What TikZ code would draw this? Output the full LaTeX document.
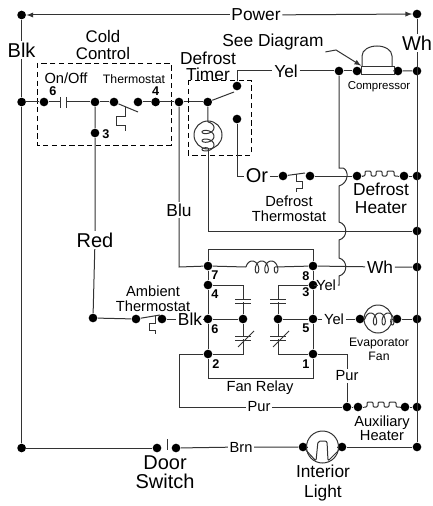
\documentclass[tikz,border=0pt]{standalone}
\usepackage{fontspec}
\setmainfont{Liberation Sans}
\definecolor{wirecol}{gray}{0.2}

\tikzset{
	dot/.style={circle,fill=black,inner sep=0pt,minimum size=6.5pt},
	txtXL/.style={inner sep=1pt,align=center,font=\fontsize{15}{14.5}\selectfont},
	txtL/.style={inner sep=1pt,align=center,font=\fontsize{13}{13.3}\selectfont},
	txtM/.style={inner sep=1pt,align=center,font=\fontsize{11}{11}\selectfont},
	txtS/.style={inner sep=1pt,align=center,font=\fontsize{9.2}{11}\selectfont},
	num/.style={inner sep=0pt,font=\fontsize{9.5}{10}\selectfont\bfseries},
	box/.style={draw=black,dashed,dash pattern=on 4pt off 2.6pt,line width=0.7pt},
	heater/.pic={\draw[rounded corners=0.8pt] (0,0) -- (3,0) -- (3,-5) -- (9,-5) -- (9,0) -- (14,0) -- (14,-5) -- (20,-5) -- (20,0) -- (25,0) -- (25,-5) -- (32,-5) -- (32,0) -- (36,0);},
	bimetal/.pic={\draw (0,0) -- (0,7) -- (6,7) -- (6,14) -- (0,14) -- (0,18);},
	plates/.pic={\draw (-8,0) -- (8,0) (-8,4) -- (8,4);},
	windings/.pic={\draw[domain=-90:990,samples=120,smooth,variable=\t] plot ({(\t+90)/1080*26+3.5*sin(\t)+3.5},{-6*cos(\t)});},
}

\begin{document}
\begin{tikzpicture}[x=0.75pt,y=-0.75pt,line width=0.75pt,draw=wirecol]
	\useasboundingbox (0,0) rectangle (432,506);

	% terminals
	\foreach \name/\x/\y in {tl/21.6/15,tr/417/14,rowL/21.6/102,bl/21.6/448,br/417/447,
		a6/44/102,rj/95/102,a3/95/133,t1/114/102,t2/138/102,a4/155.6/102,tim/179/102,dt/207.7/102,
		tu/237/86,tl2/237/119,cmpB/339/71,cmpL/357/71,cmpR/398/71,r71/417/71,
		dtL/283/176,dtR/310/176,dhL/357/176,dhR/404/176,r176/417/176,r231/417/231,
		d7/208/266,d8/313/266,r267/417/267,d4/208/285,d3/313/285,d6/208/319,d5/313/319,
		cL/243/319,cR/278/319,d2/208/354,d1/313/354,
		atL/93/318,at1/136/319,at2/162/319,
		fanL/360/319,fanR/397/319,r319/417/319,
		pur/347/407,axL/358/407,axR/405/407,r407/417/407,
		dsL/157/448,dsR/176/448,ltL/303/447,ltR/342/447}
		\node[dot] (\name) at (\x,\y) {};

	% labels on wires
	\node[txtL] (pwr) at (256,15) {Power};
	\node[txtXL] (blkT) at (21.6,50) {Blk};
	\node[txtXL] (whT) at (417,43) {Wh};
	\node[txtL] (yelT) at (286,71) {Yel};
	\node[txtXL] (or) at (257,176) {Or};
	\node[txtL] (blu) at (179,210) {Blu};
	\node[txtXL] (red) at (95,240) {Red};
	\node[txtL] (blkL) at (190,319) {Blk};
	\node[txtL] (whL) at (380,267) {Wh};
	\node[txtM] (yel3) at (326,285) {Yel};
	\node[txtM] (yel5) at (334,319) {Yel};
	\node[txtM] (purV) at (347,376) {Pur};
	\node[txtM] (purH) at (259,407) {Pur};
	\node[txtM] (brn) at (241,447) {Brn};

	% other text
	\node[txtL,font=\fontsize{12.6}{12.4}\selectfont] at (103,45) {Cold\\Control};
	\node[txtM] at (66,78) {On/Off};
	\node[txtS] at (134,79) {Thermostat};
	\node[txtL] at (208,66) {Defrost\\[-1.3pt]Timer};
	\node[txtL] (see) at (273,42) {See Diagram};
	\node[txtS,font=\fontsize{8.6}{10}\selectfont] at (379,87) {Compressor};
	\node[txtM] at (289,209) {Defrost\\Thermostat};
	\node[txtL] at (381,198) {Defrost\\Heater};
	\node[txtM] at (153,299) {Ambient\\Thermostat};
	\node[txtS] at (379,349.5) {Evaporator\\Fan};
	\node[txtM] at (260,388) {Fan Relay};
	\node[txtM,font=\fontsize{11}{9.3}\selectfont] at (382,428) {Auxiliary\\Heater};
	\node[txtXL] at (165,472) {Door\\Switch};
	\node[txtL,font=\fontsize{13}{15}\selectfont] at (323,483) {Interior\\Light};

	\node[num] at (53,91) {6};
	\node[num] at (155.6,91) {4};
	\node[num] at (106,134) {3};
	\node[num] at (215,275) {7};
	\node[num] at (306,276) {8};
	\node[num] at (215,294) {4};
	\node[num] at (306,292) {3};
	\node[num] at (215,329) {6};
	\node[num] at (306,328) {5};
	\node[num] at (216,364) {2};
	\node[num] at (306,364) {1};

	% rails
	\draw[-latex] (pwr) -- (tl);
	\draw[-latex] (pwr) -- (tr);
	\draw (tl) -- (blkT) -- (rowL) -- (bl);
	\draw (tr) -- (whT) -- (br);
	\draw (bl) -- (dsL);
	\draw (dsR) -- (brn) -- (ltL);
	\draw (ltR) -- (br);

	% cold control
	\draw[box] (37,63) rectangle (171,145);
	\coordinate (capL) at (60,102);
	\coordinate (capR) at (66,102);
	\draw (rowL) -- (a6) -- (capL);
	\draw (capR) -- (rj) -- (t1);
	\draw (capL) +(0,-5) -- +(0,6);
	\draw (capR) +(0,-5) -- +(0,6);
	\draw (t1) -- (138,112);
	\pic[xscale=-1.35,yscale=1.35] at (125,107) {bimetal};
	\draw (t2) -- (a4) -- (tim) -- (dt);
	\draw (rj) -- (a3) -- (red) -- (atL);

	% ambient thermostat
	\draw (atL) -- (at1) -- (160,315);
	\draw (at2) -- (blkL) -- (d6);
	\pic[xscale=-1] at (155,316) {bimetal};

	% defrost timer
	\draw[box] (188,80) rectangle (251,155);
	\node[circle,draw,minimum size=21pt,inner sep=0pt] (tc) at (208,135) {};
	\coordinate (coilT) at (208,122);
	\coordinate (coilB) at (208,148);
	\draw (dt) -- (coilT);
	\pic[rotate=-90] at (coilT) {windings};
	\draw (coilB) -- (208,231) -- (r231);
	\draw (dt) -- (234,92);
	\draw (tu) |- (yelT);
	\draw (yelT) -- (cmpB) -- (cmpL);
	\draw (tl2) |- (or);
	\draw (or) -- (dtL);

	% compressor
	\node[draw,fill=white,minimum width=24.5pt,minimum height=6.5pt,inner sep=0pt] (cmp) at (378,70.5) {};
	\draw (cmpL) -- (cmp);
	\draw (cmp) -- (cmpR) -- (r71);
	\draw (362,66) -- (362,56) .. controls (362,50) and (369,46) .. (377,46) .. controls (385,46) and (392,50) .. (392,56) -- (392,66);
	\draw[-latex] (see.south east) -- (336,50) -- (cmp.north west);

	% defrost thermostat and heater
	\draw (dtL) -- (305,173);
	\pic at (296,174) {bimetal};
	\draw (dtR) -- (dhL);
	\pic at (362,176) {heater};
	\draw (dhR) -- (r176);
	\draw (dhL) -- (362,176);
	\draw (398,176) -- (dhR);

	% yellow wire with hops
	\draw (cmpB) -- (339,168) -- (343,168) .. controls (349,170) and (349,183) .. (339,186) -- (339,222)
		.. controls (348,224) and (348,238) .. (339,240) -- (339,258)
		.. controls (348,260) and (348,274) .. (339,276) |- (yel3);
	\draw (yel3) -- (d3);

	% fan relay
	\draw (d7) -- (208,249) -- (313,249) -- (d8);
	\draw (tim) -- (blu) -- (179,267) -- (d7);
	\coordinate (rcL) at (246,267);
	\coordinate (rcR) at (275,267);
	\draw (d7) -- (rcL);
	\pic[xscale=1.1] at (rcL) {windings};
	\draw (rcR) -- (d8);
	\draw (d8) -- (whL) -- (r267);
	\draw (d7) -- (d4) -- (d6) -- (d2) -- (208,378) -- (313,378) -- (d1) -- (d5) -- (d3) -- (d8);
	\draw (d4) -| (cL);
	\draw (d3) -| (cR);
	\draw (d6) -- (cL);
	\draw (d5) -- (cR);
	\draw (cL) |- (d2);
	\draw (cR) |- (d1);
	\foreach \x in {243,278} {
		\fill[white] (\x-7,299.6) rectangle (\x+7,302.4);
		\fill[white] (\x-7,336.6) rectangle (\x+7,339.4);
		\pic at (\x,299) {plates};
		\pic at (\x,336) {plates};
		\draw (\x-5,347) -- (\x+11,331);
	}

	% evaporator fan
	\node[circle,draw,minimum size=21pt,inner sep=0pt] (fan) at (378,319) {};
	\draw (d5) -- (yel5) -- (fanL) -- (fan);
	\pic at (365,319) {windings};
	\draw (fan) -- (fanR) -- (r319);

	% auxiliary heater
	\draw (d2) -- (179,354) -- (179,407) -- (purH) -- (pur);
	\draw (d1) -| (purV);
	\draw (purV) -- (pur) -- (axL);
	\draw (axL) -- (364,407);
	\pic at (364,407) {heater};
	\draw (400,407) -- (axR) -- (r407);

	% door switch and light
	\draw (167,439) -- (167,450);
	\node[circle,draw,minimum size=24pt,inner sep=0pt] (lamp) at (322.5,447) {};
	\draw (ltL) -- (lamp);
	\draw (lamp) -- (ltR);
	\draw[rounded corners=1.5pt] (ltL) -- (316,461) -- (318,441) -- (327,441) -- (328,461) -- (ltR);
\end{tikzpicture}
\end{document}
